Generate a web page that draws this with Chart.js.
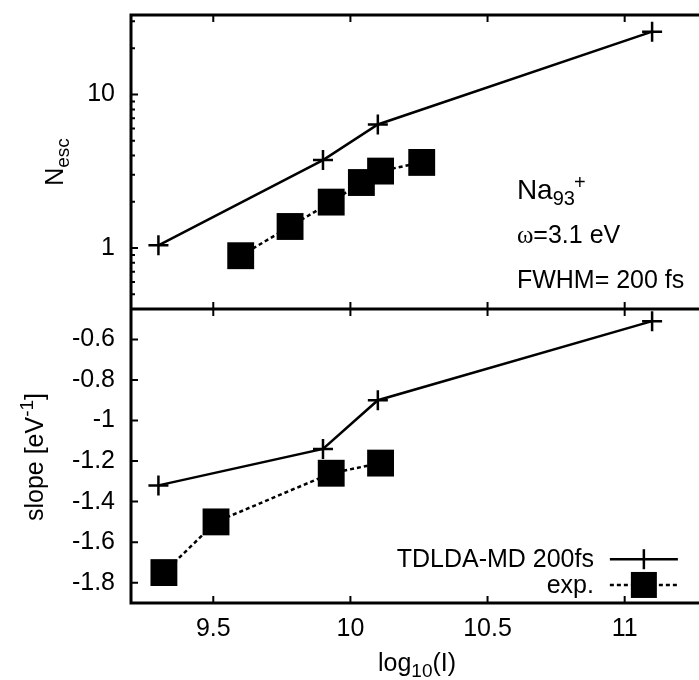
<!DOCTYPE html>
<html><head><meta charset="utf-8">
<script src="https://cdn.jsdelivr.net/npm/chart.js@4/dist/chart.umd.min.js"></script>
<style>html,body{margin:0;padding:0;background:#fff;overflow:hidden}
#wrap{width:699px;height:680px;position:relative}</style>
</head><body><div id="wrap"><canvas id="c" width="699" height="680"></canvas></div>
<script>
// ---- data ----
const xTicks = [9.5, 10, 10.5, 11];
const nescTicks = [1, 10];
const slopeTicks = [-0.6, -0.8, -1, -1.2, -1.4, -1.6, -1.8];
const tdldaX = [9.3, 9.9, 10.1, 11.1];
const tdldaNesc = [1.04, 3.74, 6.38, 25.7];
const tdldaSlope = [-1.32, -1.14, -0.9, -0.51];
const expNescX = [9.6, 9.78, 9.93, 10.04, 10.11, 10.26];
const expNesc = [0.89, 1.38, 1.99, 2.67, 3.17, 3.61];
const expSlopeX = [9.32, 9.51, 9.93, 10.11];
const expSlope = [-1.75, -1.5, -1.26, -1.21];
const seriesNames = ['TDLDA-MD 200fs', 'exp.'];

const FONT = '"Liberation Sans", Arial, Helvetica, sans-serif';
const FS = 25;
const pts = (xs, ys) => xs.map((x, i) => ({x, y: ys[i]}));

const tdStyle = {borderColor:'#000', backgroundColor:'#000', borderWidth:2.5, pointStyle:'cross',
  pointRadius:10, pointBorderWidth:2.5, pointBorderColor:'#000', showLine:true, fill:false, tension:0};
const exStyle = {borderColor:'#000', backgroundColor:'#000', borderWidth:2.5, borderDash:[4,3], pointStyle:'rect',
  pointRadius:19, pointBorderWidth:0, pointBackgroundColor:'#000', showLine:true, fill:false, tension:0};

function sub(ctx, parts, x, y) {
  for (const p of parts) {
    ctx.font = p[1] + 'px ' + (p[3] || FONT);
    ctx.fillText(p[0], x, y + p[2]);
    x += ctx.measureText(p[0]).width;
  }
  return x;
}
function partsWidth(ctx, parts) {
  let w = 0;
  for (const p of parts) { ctx.font = p[1] + 'px ' + (p[3] || FONT); w += ctx.measureText(p[0]).width; }
  return w;
}

const deco = {
  id: 'deco',
  afterDatasetsDraw(chart) {
    const {ctx, chartArea: a, scales} = chart;
    const sx = scales.x, yN = scales.yN, yS = scales.yS;
    const mid = yS.top;
    const R = a.right + 10;
    ctx.save();
    ctx.strokeStyle = '#000'; ctx.fillStyle = '#000';
    ctx.lineWidth = 3; ctx.lineCap = 'square';
    ctx.beginPath();
    ctx.moveTo(a.left, a.top); ctx.lineTo(a.left, a.bottom);
    ctx.moveTo(a.left, a.top); ctx.lineTo(R, a.top);
    ctx.moveTo(a.left, mid); ctx.lineTo(R, mid);
    ctx.moveTo(a.left, a.bottom); ctx.lineTo(R, a.bottom);
    ctx.stroke();
    ctx.lineWidth = 2; ctx.lineCap = 'butt';
    ctx.beginPath();
    const L = 7, l = 4;
    for (const v of xTicks) {
      const px = sx.getPixelForValue(v);
      ctx.moveTo(px, a.top); ctx.lineTo(px, a.top + L);
      ctx.moveTo(px, mid - L); ctx.lineTo(px, mid + L);
      ctx.moveTo(px, a.bottom); ctx.lineTo(px, a.bottom - L);
    }
    for (const v of nescTicks) {
      const py = yN.getPixelForValue(v);
      ctx.moveTo(a.left, py); ctx.lineTo(a.left + L, py);
    }
    for (let d = -1; d <= 1; d++) {
      for (let m = 2; m <= 9; m++) {
        const v = m * Math.pow(10, d);
        if (v <= yN.min || v >= yN.max) continue;
        const py = yN.getPixelForValue(v);
        ctx.moveTo(a.left, py); ctx.lineTo(a.left + l, py);
      }
    }
    for (const v of slopeTicks) {
      const py = yS.getPixelForValue(v);
      ctx.moveTo(a.left, py); ctx.lineTo(a.left + L, py);
    }
    ctx.stroke();

    // annotations
    ctx.textAlign = 'left'; ctx.textBaseline = 'alphabetic';
    const ax = sx.getPixelForValue(10.607);
    const naParts = [['Na', 28, 0], ['93', 20, 6]];
    const naY = yN.getPixelForValue(2.08);
    sub(ctx, naParts, ax, naY);
    ctx.font = '20px ' + FONT;
    ctx.fillText('+', ax + partsWidth(ctx, naParts) - 1, naY - 10);
    sub(ctx, [['\u03c9', FS, 0, '"Liberation Serif", "DejaVu Serif", serif'], ['=3.1 eV', FS, 0]], ax, yN.getPixelForValue(1.07));
    sub(ctx, [['FWHM= 200 fs', FS, 0]], ax, yN.getPixelForValue(0.55));

    // legend
    const lxEnd = sx.getPixelForValue(10.888);
    const s0 = sx.getPixelForValue(10.946), s1 = sx.getPixelForValue(11.194), sc = (s0 + s1) / 2;
    const ly1 = yS.getPixelForValue(-1.684), ly2 = yS.getPixelForValue(-1.811);
    ctx.font = FS + 'px ' + FONT; ctx.textAlign = 'right'; ctx.textBaseline = 'alphabetic';
    ctx.fillText(seriesNames[0], lxEnd, ly1 + 8);
    ctx.fillText(seriesNames[1], lxEnd, ly2 + 8);
    ctx.lineWidth = 2.5;
    ctx.beginPath(); ctx.moveTo(s0, ly1); ctx.lineTo(s1, ly1); ctx.stroke();
    ctx.beginPath(); ctx.moveTo(sc, ly1 - 10); ctx.lineTo(sc, ly1 + 10); ctx.stroke();
    ctx.setLineDash([4, 3]);
    ctx.beginPath(); ctx.moveTo(s0, ly2); ctx.lineTo(s1, ly2); ctx.stroke();
    ctx.setLineDash([]);
    ctx.fillRect(sc - 13, ly2 - 13, 26, 26);

    // axis titles
    ctx.textAlign = 'left'; ctx.textBaseline = 'alphabetic';
    ctx.save();
    const nParts = [['N', FS, 0], ['esc', 19, 6]];
    const nw = partsWidth(ctx, nParts);
    ctx.translate(63, (yN.top + yN.bottom) / 2); ctx.rotate(-Math.PI / 2);
    sub(ctx, nParts, -nw / 2, 0);
    ctx.restore();
    ctx.save();
    const sParts = [['slope [eV', FS, 0], ['-1', 19, -10], [']', FS, 0]];
    const sw = partsWidth(ctx, sParts);
    ctx.translate(43, (yS.top + yS.bottom) / 2 + 1); ctx.rotate(-Math.PI / 2);
    sub(ctx, sParts, -sw / 2, 0);
    ctx.restore();
    const xParts = [['log', FS, 0], ['10', 19, 6], ['(I)', FS, 0]];
    const xw = partsWidth(ctx, xParts);
    sub(ctx, xParts, sx.getPixelForValue(10.243) - xw / 2, 671);
    ctx.restore();
  }
};

const noPad = s => { s.paddingTop = 0; s.paddingBottom = 0; s.paddingLeft = 0; s.paddingRight = 0; };

new Chart(document.getElementById('c'), {
  type: 'scatter',
  data: {
    datasets: [
      Object.assign({label: seriesNames[0], data: pts(tdldaX, tdldaSlope), yAxisID: 'yS'}, tdStyle),
      Object.assign({label: seriesNames[1], data: pts(expSlopeX, expSlope), yAxisID: 'yS'}, exStyle),
      Object.assign({label: seriesNames[0], data: pts(tdldaX, tdldaNesc), yAxisID: 'yN'}, tdStyle),
      Object.assign({label: seriesNames[1], data: pts(expNescX, expNesc), yAxisID: 'yN'}, exStyle)
    ]
  },
  options: {
    responsive: false, devicePixelRatio: 1, animation: false,
    layout: {autoPadding: false, padding: {top: 15, right: 0, left: 0, bottom: 0}},
    plugins: {legend: {display: false}, tooltip: {enabled: false}},
    scales: {
      x: {
        type: 'linear', min: 9.2, max: 11.271,
        afterBuildTicks: s => { s.ticks = xTicks.map(v => ({value: v})); },
        afterFit: s => { s.height = 77; noPad(s); },
        grid: {display: false, drawTicks: false}, border: {display: false},
        ticks: {color: '#000', font: {family: FONT, size: FS}, padding: 11, maxRotation: 0, autoSkip: false,
          callback: v => String(v)}
      },
      yS: {
        type: 'linear', position: 'left', stack: 'v', stackWeight: 1, min: -1.9, max: -0.45,
        afterBuildTicks: s => { s.ticks = slopeTicks.map(v => ({value: v})); },
        afterFit: s => { s.width = 131; noPad(s); },
        grid: {display: false, drawTicks: false}, border: {display: false},
        ticks: {color: '#000', font: {family: FONT, size: FS}, padding: 16, autoSkip: false, callback: v => String(v)}
      },
      yN: {
        type: 'logarithmic', position: 'left', stack: 'v', stackWeight: 1, min: 0.4, max: 33,
        afterBuildTicks: s => { s.ticks = nescTicks.map(v => ({value: v})); },
        afterFit: s => { s.width = 131; noPad(s); },
        grid: {display: false, drawTicks: false}, border: {display: false},
        ticks: {color: '#000', font: {family: FONT, size: FS}, padding: 16, autoSkip: false, callback: v => String(v)}
      }
    }
  },
  plugins: [deco]
});
</script></body></html>
